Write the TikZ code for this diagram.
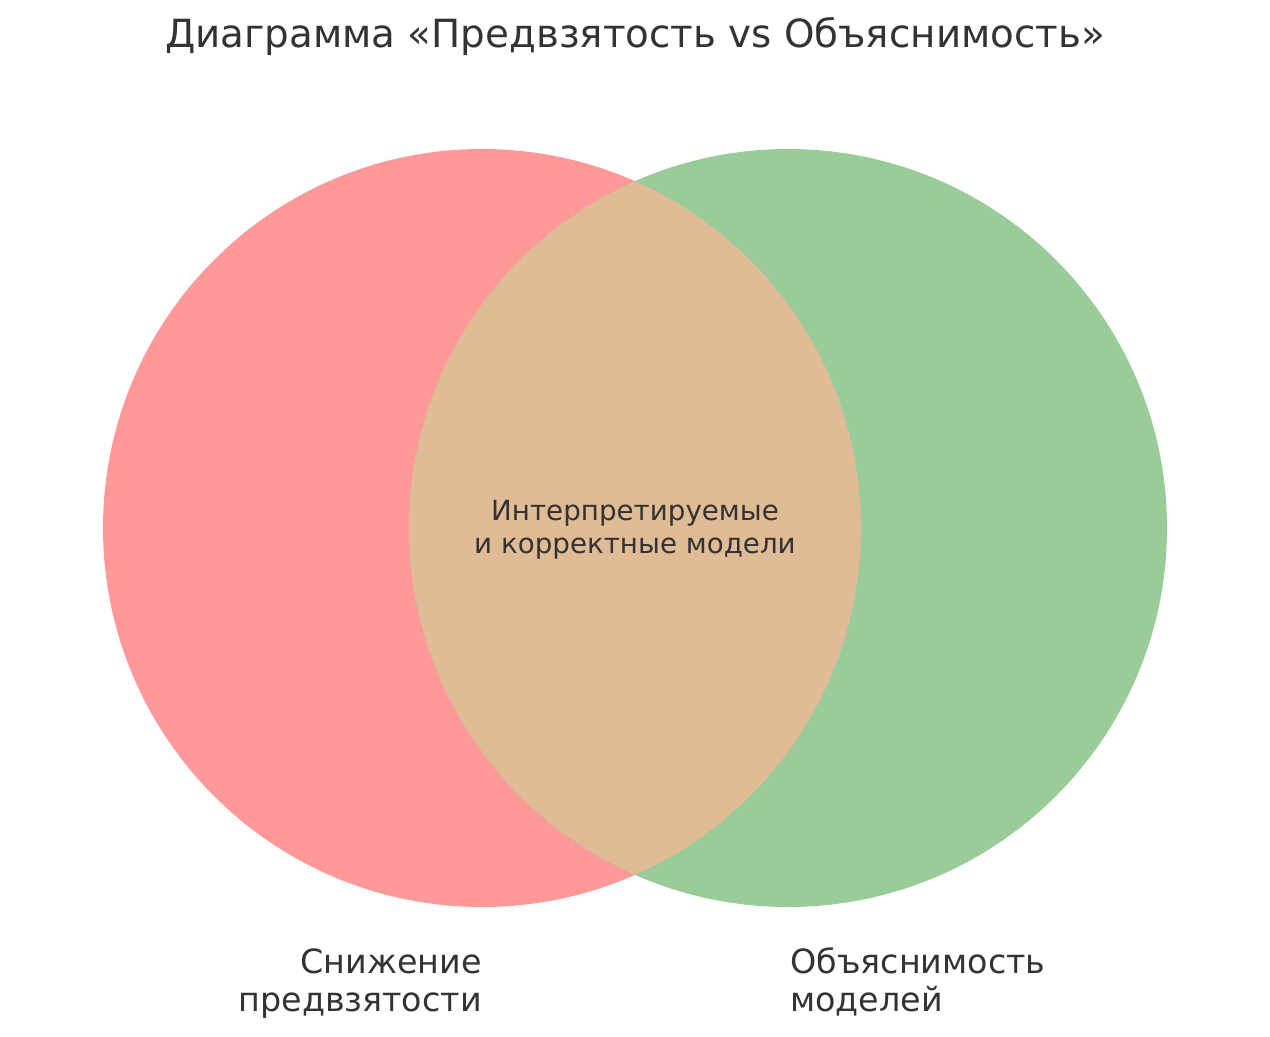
\documentclass[tikz,border=0pt]{standalone}
\usepackage{fontspec}
\setmainfont{DejaVu Sans}
\definecolor{setA}{HTML}{FF9999}
\definecolor{setB}{HTML}{99CC99}
\definecolor{setAB}{HTML}{DFBB96}
\definecolor{txt}{HTML}{333333}
\begin{document}
\begin{tikzpicture}[x=0.75pt, y=-0.75pt,
    lbl/.style={text=txt, inner sep=0pt}]
    \useasboundingbox (0, 0) rectangle (1270, 1037);
    % sets
    \fill [setA]     (482, 528) circle (284.25pt);
    \fill [setB]     (788, 528) circle (284.25pt);
    \begin{scope}
      \clip          (482, 528) circle (284.25pt);
      \fill [setAB]  (788, 528) circle (284.25pt);
    \end{scope}
    % texts
    \node [lbl, anchor=base, font=\fontsize{29.1}{35}\selectfont] (title) at (635, 48)
      {Диаграмма «Предвзятость vs Объяснимость»};
    \node [lbl, anchor=base, align=center, font=\fontsize{20.8}{24.2}\selectfont] (both) at (635, 553)
      {Интерпретируемые\\и корректные модели};
    \node [lbl, anchor=base east, align=right, font=\fontsize{25}{28.5}\selectfont] (labA) at (482, 1011)
      {Снижение\\предвзятости};
    \node [lbl, anchor=base west, align=left, font=\fontsize{25}{28.5}\selectfont] (labB) at (790, 1011)
      {Объяснимость\\моделей};
  \end{tikzpicture}
\end{document}
